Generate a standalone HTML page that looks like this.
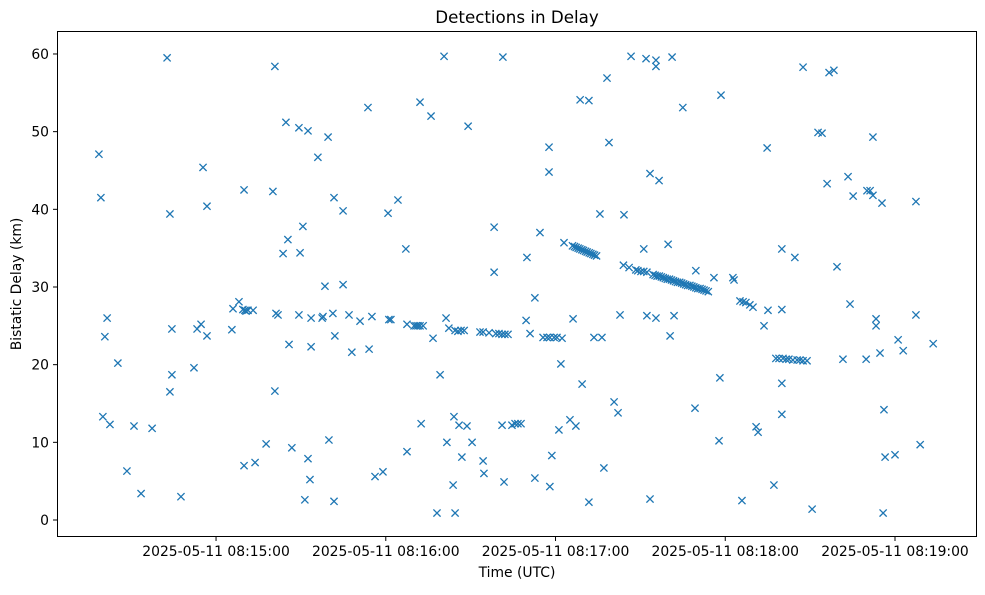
<!DOCTYPE html>
<html><head><meta charset="utf-8"><style>
body{margin:0;background:#fff;}
svg text{font-family:"DejaVu Sans","Liberation Sans",sans-serif;fill:#000;}
</style></head><body>
<svg id="chart" width="985" height="590" xmlns="http://www.w3.org/2000/svg">
<rect x="0" y="0" width="985" height="590" fill="#fff"/>
<text x="517" y="23" font-size="16.7" text-anchor="middle">Detections in Delay</text>
<g id="marks"></g>
<rect x="57.5" y="31.5" width="919" height="505" fill="none" stroke="#000" stroke-width="1"/>
<g id="xaxis"></g>
<g id="yaxis"></g>
<text x="517" y="577" font-size="13.9" text-anchor="middle">Time (UTC)</text>
<text transform="translate(21,284) rotate(-90)" font-size="13.9" text-anchor="middle">Bistatic Delay (km)</text>
</svg>
<script>
// seconds after 2025-05-11 08:14:00 UTC
const times = [18.6,19.3,21.5,20.7,20.0,22.5,25.3,28.5,31.0,33.5,37.4,42.7,43.7,44.4,44.4,43.7,47.6,52.2,53.3,54.7,55.4,56.8,56.8,65.6,66.0,68.1,69.5,70.2,71.3,70.6,73.1,69.9,69.9,73.8,77.7,80.1,80.8,81.2,80.8,81.9,83.7,84.7,85.4,85.8,86.8,89.3,89.7,89.3,90.7,91.4,92.5,92.5,93.2,93.6,93.6,96.0,97.5,97.8,98.5,99.6,99.9,101.3,101.7,101.7,102.0,104.9,104.9,107.0,108.0,110.9,113.7,114.1,115.1,116.2,119.0,120.8,121.1,121.8,124.3,127.1,127.5,127.5,130.0,130.7,131.4,132.1,133.2,132.1,132.5,136.0,136.7,138.1,139.2,140.6,141.3,141.6,142.3,143.8,144.1,144.5,144.5,145.5,146.6,147.7,145.9,146.9,149.1,148.7,150.5,153.3,154.4,154.4,154.7,156.5,158.3,158.3,158.9,160.0,161.1,162.1,163.2,161.8,161.4,161.1,164.6,165.7,166.7,167.8,169.6,169.9,171.0,172.7,172.7,174.5,175.6,177.0,178.0,179.5,180.5,182.3,177.7,177.7,178.0,178.7,181.2,181.9,183.0,
186.0,186.7,187.3,188.0,188.6,189.3,189.9,190.6,191.2,191.9,192.5,193.2,193.8,194.5,
185.1,186.2,187.2,188.7,189.4,191.8,191.8,193.6,195.7,196.4,197.1,198.2,198.9,200.7,202.1,202.8,204.2,
204.0,206.0,208.4,209.1,210.2,211.2,212.3,
214.5,215.2,215.9,216.7,217.4,218.1,218.8,219.5,220.3,221.0,221.7,222.4,223.1,223.9,224.6,225.3,226.0,226.7,227.5,228.2,228.9,229.6,230.3,231.1,231.8,232.5,233.2,234.0,
206.7,212.0,212.3,213.4,213.4,215.5,215.5,215.5,216.6,211.2,219.8,220.5,221.2,221.9,225.0,229.3,229.6,236.0,237.8,238.1,238.5,242.7,243.1,245.2,246.3,247.3,245.9,248.7,249.8,250.9,251.6,253.7,254.8,255.1,257.2,
257.9,259.0,260.4,261.5,262.5,263.9,265.4,266.4,267.5,268.9,
260.0,260.0,260.0,260.0,264.6,267.5,270.7,272.8,274.2,276.0,276.7,278.4,279.5,281.6,283.4,284.1,285.2,289.8,290.1,291.2,292.2,292.2,293.3,293.3,294.7,295.4,296.1,295.8,296.5,300.0,301.1,302.9,307.4,307.4,308.9,313.5];
const delays = [47.1,41.5,26.0,23.6,13.3,12.3,20.2,6.3,12.1,3.4,11.8,59.5,39.4,24.6,18.7,16.5,3.0,19.6,24.6,25.2,45.4,40.4,23.7,24.5,27.2,28.1,27.1,27.0,27.0,26.9,27.0,42.5,7.0,7.4,9.8,42.3,58.4,26.6,16.6,26.4,34.3,51.2,36.1,22.6,9.3,50.5,34.4,26.4,37.8,2.6,50.1,7.9,5.2,22.3,26.0,46.7,26.0,26.2,30.1,49.3,10.3,26.6,41.5,2.4,23.7,39.8,30.3,26.4,21.6,25.6,53.1,22.0,26.2,5.6,6.2,39.5,25.8,25.8,41.2,34.9,25.2,8.8,25.0,25.0,25.0,25.0,25.0,53.8,12.4,52.0,23.4,0.9,18.7,59.7,26.0,10.0,24.7,4.5,13.3,0.9,24.4,24.3,24.4,24.4,12.2,8.1,50.7,12.1,10.0,24.2,24.2,7.6,6.0,24.1,37.7,31.9,24.0,24.0,23.9,23.9,23.9,4.9,59.6,12.2,12.2,12.4,12.4,12.4,25.7,33.8,24.0,28.6,5.4,37.0,23.5,23.5,23.5,23.5,23.5,23.4,48.0,44.8,4.3,8.3,11.6,20.1,35.7,
35.3,35.2,35.1,35.0,34.9,34.8,34.7,34.6,34.5,34.4,34.3,34.2,34.1,34.0,
12.9,25.9,12.1,54.1,17.5,54.0,2.3,23.5,39.4,23.5,6.7,56.9,48.6,15.2,13.8,26.4,39.3,
32.8,32.5,32.2,32.1,32.0,32.0,31.9,
31.6,31.5,31.4,31.4,31.3,31.2,31.1,31.0,31.0,30.9,30.8,30.7,30.6,30.6,30.5,30.4,30.3,30.2,30.2,30.1,30.0,29.9,29.8,29.8,29.7,29.6,29.5,29.4,
59.7,59.4,26.3,44.6,2.7,59.2,58.4,26.0,43.7,34.9,35.5,23.7,59.6,26.3,53.1,14.4,32.1,31.2,10.2,18.3,54.7,31.2,30.9,28.2,28.1,28.0,2.5,27.7,27.4,12.0,11.3,25.0,47.9,27.0,4.5,
20.8,20.8,20.8,20.7,20.7,20.6,20.6,20.6,20.5,20.5,
27.1,34.9,17.6,13.6,33.8,58.3,1.4,49.9,49.8,43.3,57.6,57.9,32.6,20.7,44.2,27.8,41.7,20.7,42.4,42.4,49.3,41.8,25.9,25.0,21.5,40.8,14.2,0.9,8.1,8.4,23.2,21.8,41.0,26.4,9.7,22.7];
const xTickSecs = [60,120,180,240,300];
const xTickLabels = ["2025-05-11 08:15:00","2025-05-11 08:16:00","2025-05-11 08:17:00","2025-05-11 08:18:00","2025-05-11 08:19:00"];
const yTicks = [0,10,20,30,40,50,60];

const NS="http://www.w3.org/2000/svg";
function xs(t){return 46.3 + t*2.829;}
function ys(d){return 520 - d*7.767;}
const marks=document.getElementById('marks');
const n=Math.min(times.length,delays.length);
for(let i=0;i<n;i++){
  const x=xs(times[i]), y=ys(delays[i]), r=3.6;
  const p=document.createElementNS(NS,'path');
  p.setAttribute('d',`M${x-r},${y-r}L${x+r},${y+r}M${x-r},${y+r}L${x+r},${y-r}`);
  p.setAttribute('stroke','#1f77b4');
  p.setAttribute('stroke-width','1.3');
  p.setAttribute('fill','none');
  
  
  marks.appendChild(p);
}
const xa=document.getElementById('xaxis');
xTickSecs.forEach((s,i)=>{
  const x=xs(s);
  const l=document.createElementNS(NS,'line');
  l.setAttribute('x1',x);l.setAttribute('x2',x);l.setAttribute('y1',537);l.setAttribute('y2',541);
  l.setAttribute('stroke','#000');
  
  
  xa.appendChild(l);
  const t=document.createElementNS(NS,'text');
  t.setAttribute('x',x);t.setAttribute('y',556);t.setAttribute('font-size','13.9');t.setAttribute('text-anchor','middle');
  t.textContent=xTickLabels[i];
  
  
  xa.appendChild(t);
});
const ya=document.getElementById('yaxis');
yTicks.forEach(v=>{
  const y=ys(v);
  const l=document.createElementNS(NS,'line');
  l.setAttribute('x1',53);l.setAttribute('x2',57);l.setAttribute('y1',y);l.setAttribute('y2',y);
  l.setAttribute('stroke','#000');
  
  
  ya.appendChild(l);
  const t=document.createElementNS(NS,'text');
  t.setAttribute('x',49);t.setAttribute('y',y+5);t.setAttribute('font-size','13.9');t.setAttribute('text-anchor','end');
  t.textContent=String(v);
  
  
  ya.appendChild(t);
});
</script>
</body></html>
